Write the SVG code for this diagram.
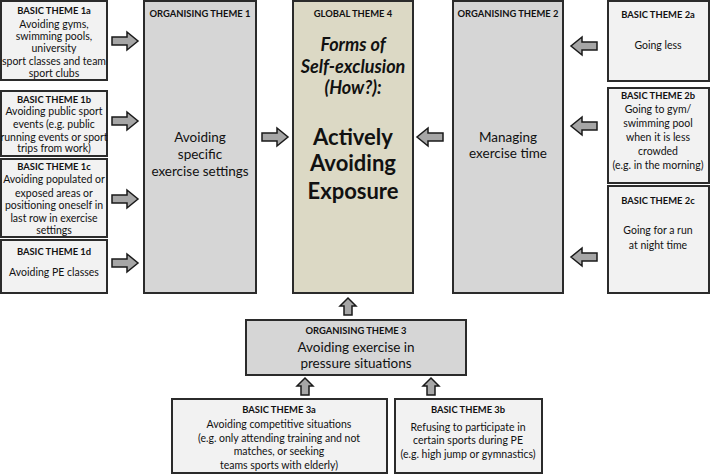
<svg xmlns="http://www.w3.org/2000/svg" width="710" height="475" viewBox="0 0 710 475">
<defs>
<style>
.basic{fill:#f2f2f2;stroke:#2b2b2b;stroke-width:2}
.org{fill:#d6d6d6;stroke:#2b2b2b;stroke-width:2}
.glob{fill:#dcd9c5;stroke:#2b2b2b;stroke-width:2}
.arr{fill:#a6a6a6;stroke:#1a1a1a;stroke-width:1.5;stroke-linejoin:miter}
text{font-family:Lato,"Liberation Sans",sans-serif;fill:#111;text-anchor:middle}
.h{font-weight:bold;font-size:9.4px}
.b{font-size:10.5px}
.o{font-size:13.5px}
.oh{font-size:9.4px;font-weight:bold}
.gi{font-size:18px;font-weight:bold;font-style:italic}
.gb{font-size:22px;font-weight:bold}
</style>
<path id="ar" class="arr" d="M0,-4 H15 V-9 L26,0 L15,9 V4 H0 Z"/>
<path id="au" class="arr" d="M-4,0 V-9 H-8 L0,-17 L8,-9 H4 V0 Z"/>
</defs>

<g id="connectors">
<use href="#ar" x="112" y="41"/>
<use href="#ar" x="112" y="121"/>
<use href="#ar" x="112" y="199"/>
<use href="#ar" x="112" y="263"/>
<use href="#ar" x="262" y="137"/>
<use href="#ar" transform="translate(443,137) scale(-1,1)"/>
<use href="#ar" transform="translate(597,46) scale(-1,1)"/>
<use href="#ar" transform="translate(597,126) scale(-1,1)"/>
<use href="#ar" transform="translate(597,257) scale(-1,1)"/>
<use href="#au" x="348" y="315"/>
<use href="#au" x="305" y="395"/>
<use href="#au" x="431" y="395"/>
</g>

<g id="basic1a">
<rect class="basic" x="1" y="1" width="106" height="79"/>
<text class="h" x="54" y="14">BASIC THEME 1a</text>
<text class="b" x="54" y="28">Avoiding gyms,</text>
<text class="b" x="54" y="40">swimming pools,</text>
<text class="b" x="54" y="52">university</text>
<text class="b" x="54" y="65">sport classes and team</text>
<text class="b" x="54" y="77">sport clubs</text>
</g>
<g id="basic1b">
<rect class="basic" x="1" y="91" width="106" height="65"/>
<text class="h" x="54" y="103">BASIC THEME 1b</text>
<text class="b" x="54" y="115">Avoiding public sport</text>
<text class="b" x="54" y="128">events (e.g. public</text>
<text class="b" x="54" y="141">running events or sport</text>
<text class="b" x="54" y="152">trips from work)</text>
</g>
<g id="basic1c">
<rect class="basic" x="1" y="159" width="106" height="78"/>
<text class="h" x="54" y="170">BASIC THEME 1c</text>
<text class="b" x="54" y="183">Avoiding populated or</text>
<text class="b" x="54" y="197">exposed areas or</text>
<text class="b" x="54" y="209">positioning oneself in</text>
<text class="b" x="54" y="222">last row in exercise</text>
<text class="b" x="54" y="234">settings</text>
</g>
<g id="basic1d">
<rect class="basic" x="1" y="240" width="106" height="53"/>
<text class="h" x="54" y="255">BASIC THEME 1d</text>
<text class="b" x="54" y="276">Avoiding PE classes</text>
</g>

<g id="org1">
<rect class="org" x="144" y="1" width="112" height="292"/>
<text class="oh" x="200" y="17">ORGANISING THEME 1</text>
<text class="o" x="200" y="142">Avoiding</text>
<text class="o" x="200" y="159">specific</text>
<text class="o" x="200" y="176">exercise settings</text>
</g>

<g id="global4">
<rect class="glob" x="293" y="1" width="120" height="292"/>
<text class="oh" x="353" y="17">GLOBAL THEME 4</text>
<text class="gi" x="353" y="51">Forms of</text>
<text class="gi" x="353" y="73">Self-exclusion</text>
<text class="gi" x="353" y="94">(How?):</text>
<text class="gb" x="353" y="145">Actively</text>
<text class="gb" x="353" y="171">Avoiding</text>
<text class="gb" x="353" y="199">Exposure</text>
</g>

<g id="org2">
<rect class="org" x="453" y="1" width="110" height="292"/>
<text class="oh" x="508" y="17">ORGANISING THEME 2</text>
<text class="o" x="508" y="142">Managing</text>
<text class="o" x="508" y="158">exercise time</text>
</g>

<g id="basic2a">
<rect class="basic" x="608" y="1" width="101" height="80"/>
<text class="h" x="658" y="18">BASIC THEME 2a</text>
<text class="b" x="658" y="49">Going less</text>
</g>
<g id="basic2b">
<rect class="basic" x="608" y="88" width="101" height="95"/>
<text class="h" x="658" y="99">BASIC THEME 2b</text>
<text class="b" x="658" y="113">Going to gym/</text>
<text class="b" x="658" y="127">swimming pool</text>
<text class="b" x="658" y="141">when it is less</text>
<text class="b" x="658" y="155">crowded</text>
<text class="b" x="658" y="169">(e.g. in the morning)</text>
</g>
<g id="basic2c">
<rect class="basic" x="608" y="186" width="101" height="107"/>
<text class="h" x="658" y="204">BASIC THEME 2c</text>
<text class="b" x="658" y="234">Going for a run</text>
<text class="b" x="658" y="249">at night time</text>
</g>

<g id="org3">
<rect class="org" x="246" y="320" width="220" height="55"/>
<text class="h" x="356" y="334">ORGANISING THEME 3</text>
<text class="o" x="356" y="352">Avoiding exercise in</text>
<text class="o" x="356" y="368">pressure situations</text>
</g>

<g id="basic3a">
<rect class="basic" x="172" y="399" width="215" height="74"/>
<text class="h" x="279" y="413">BASIC THEME 3a</text>
<text class="b" x="279" y="428">Avoiding competitive situations</text>
<text class="b" x="279" y="442">(e.g. only attending training and not</text>
<text class="b" x="279" y="455">matches, or seeking</text>
<text class="b" x="279" y="469">teams sports with elderly)</text>
</g>
<g id="basic3b">
<rect class="basic" x="395" y="399" width="147" height="74"/>
<text class="h" x="468" y="413">BASIC THEME 3b</text>
<text class="b" x="468" y="431">Refusing to participate in</text>
<text class="b" x="468" y="444">certain sports during PE</text>
<text class="b" x="468" y="458">(e.g. high jump or gymnastics)</text>
</g>
</svg>
